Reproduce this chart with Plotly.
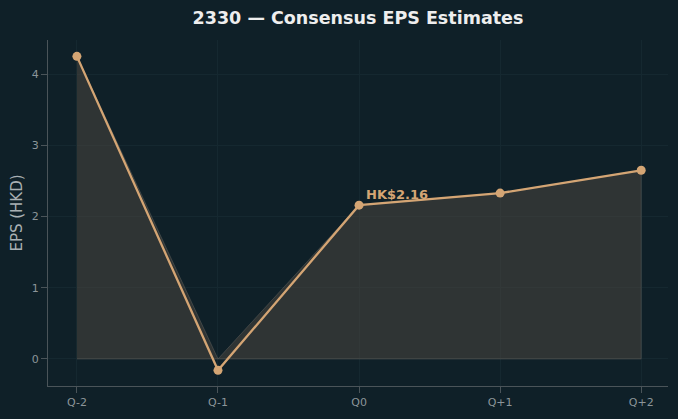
import plotly.graph_objects as go

quarters = ["Q-2", "Q-1", "Q0", "Q+1", "Q+2"]
eps = [4.25, -0.16, 2.16, 2.33, 2.65]
title_text = "2330 — Consensus EPS Estimates"
label_text = "HK$2.16"
label_idx = 2

BG = "#0f2028"
LINE = "#d4a574"
GRID = "#152830"
AXIS = "#4a5459"
TICK = "#8c9599"

idx = list(range(len(quarters)))
clipped = [max(v, 0) for v in eps]

fig = go.Figure()
fig.add_trace(go.Scatter(
    x=idx + [idx[-1], idx[0]],
    y=clipped + [0, 0],
    fill="toself",
    fillcolor="rgba(79,72,64,0.5)",
    line=dict(color="rgba(105,105,100,0.45)", width=1),
    mode="lines",
    hoverinfo="skip",
    showlegend=False,
))
fig.add_trace(go.Scatter(
    x=idx, y=eps, mode="lines+markers",
    line=dict(color=LINE, width=2.3),
    marker=dict(color=LINE, size=9),
    showlegend=False,
))
fig.add_annotation(
    x=label_idx, y=eps[label_idx], text="<b>" + label_text + "</b>",
    showarrow=False, xanchor="left", yanchor="bottom", xshift=5, yshift=1,
    font=dict(family="DejaVu Sans", size=13, color=LINE),
)
fig.update_layout(
    width=678, height=419,
    paper_bgcolor=BG, plot_bgcolor=BG,
    margin=dict(l=48, r=10, t=40, b=33),
    title=dict(text="<b>" + title_text + "</b>", x=0.528, xanchor="center", y=0.957, yanchor="middle",
               font=dict(family="DejaVu Sans", size=17.5, color="#eeeeee")),
    font=dict(family="DejaVu Sans", color=TICK, size=11),
)
fig.update_xaxes(
    range=[-0.205, 4.19], tickmode="array", tickvals=idx, ticktext=quarters,
    showgrid=True, gridcolor=GRID, gridwidth=1, zeroline=False,
    showline=True, linecolor=AXIS, linewidth=1,
    ticks="outside", ticklen=6, tickcolor=AXIS,
    tickfont=dict(size=11, color=TICK),
)
fig.update_yaxes(
    range=[-0.38, 4.48], tickvals=[0, 1, 2, 3, 4],
    showgrid=True, gridcolor=GRID, gridwidth=1, zeroline=False,
    showline=True, linecolor=AXIS, linewidth=1,
    ticks="outside", ticklen=6, tickcolor=AXIS,
    tickfont=dict(size=11, color=TICK),
    title=dict(text="EPS (HKD)", font=dict(size=15, color="#a9b0b3"), standoff=5),
)
fig.write_html("out.html")
